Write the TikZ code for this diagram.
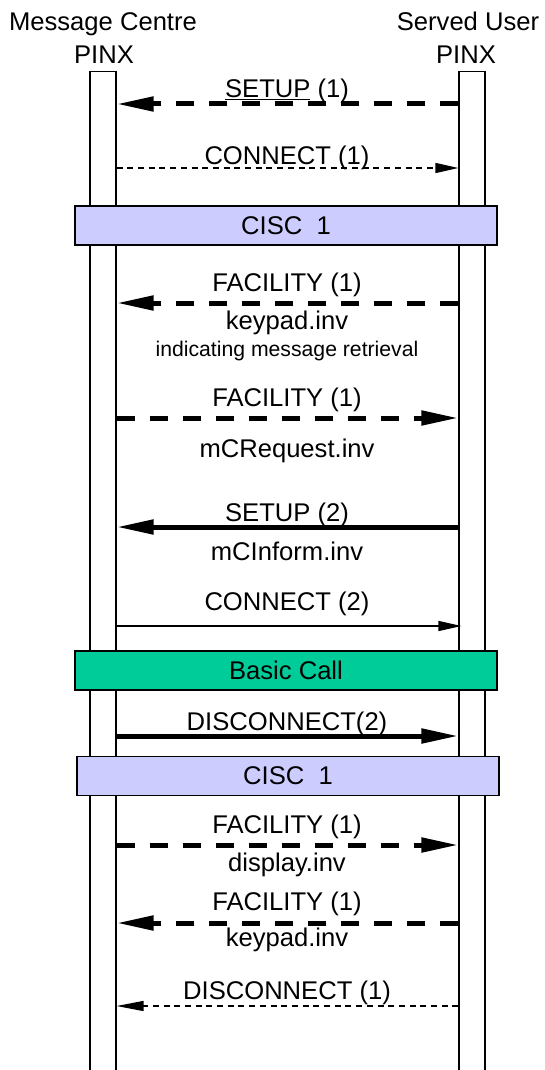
\documentclass[tikz,border=0pt]{standalone}
\usepackage{fontspec}
\setmainfont{Liberation Sans}
\usetikzlibrary{arrows.meta,positioning}

\definecolor{ciscblue}{HTML}{CCCCFF}
\definecolor{callgreen}{HTML}{00CC99}

\tikzset{
  lifeline/.style={draw, line width=1.2pt, minimum width=26pt, minimum height=1100pt,
    anchor=north, inner sep=0pt},
  head/.style={font=\fontsize{25.6}{30}\selectfont, inner sep=0pt, anchor=base},
  msg/.style={font=\fontsize{25.6}{30}\selectfont, inner sep=0pt, anchor=base},
  note/.style={font=\fontsize{21.2}{25}\selectfont, inner sep=0pt, anchor=base},
  phase/.style={draw, line width=1.2pt, minimum width=422pt, minimum height=39pt,
    font=\fontsize{25.6}{30}\selectfont, inner sep=0pt},
  big/.style={line width=5pt, -{Triangle[length=37pt,width=14pt]}},
  bigdash/.style={big, dash pattern=on 18pt off 15pt},
  small/.style={line width=1.3pt, -{Triangle[length=23pt,width=10pt]}},
  smalldash/.style={small, dash pattern=on 6pt off 4.7pt},
}

\begin{document}
\begin{tikzpicture}[x=1pt, y=-1pt]
        \useasboundingbox (0,0) rectangle (544,1070);

        % Lifeline headers
        \node[head] (mcname) at (103,31) {Message Centre};
        \node[head] (mcpinx) at (104,64) {PINX};
        \node[head] (suname) at (468,31) {Served User};
        \node[head] (supinx) at (466,64) {PINX};

        % Lifelines
        \node[lifeline] (mcl) at (103,71) {};
        \node[lifeline] (sul) at (472,71) {};

        % Phase boxes
        \node[phase, fill=ciscblue] (cisca) at (286,225.5) {CISC\ \ 1};
        \node[phase, fill=callgreen] (basic) at (286,670.5) {Basic Call};
        \node[phase, fill=ciscblue] (ciscb) at (288,776) {CISC\ \ 1};

        % Message levels
        \coordinate (m1) at (0,104);
        \coordinate (m2) at (0,168);
        \coordinate (m3) at (0,303);
        \coordinate (m4) at (0,418);
        \coordinate (m5) at (0,527);
        \coordinate (m6) at (0,626);
        \coordinate (m7) at (0,736);
        \coordinate (m8) at (0,845);
        \coordinate (m9) at (0,923);
        \coordinate (m10) at (0,1006);

        % Call set-up and CISC
        \draw[bigdash] (sul.west |- m1) -- (mcl.east |- m1);
        \node[msg] (t1) at (287,98) {\underline{SETUP} (1)};
        \draw[smalldash] (mcl.east |- m2) -- (sul.west |- m2);
        \node[msg] (t2) at (287,164) {CONNECT (1)};

        % Message retrieval request
        \draw[bigdash] (sul.west |- m3) -- (mcl.east |- m3);
        \node[msg] (t3) at (287,291) {FACILITY (1)};
        \node[msg] (k3) at (287,329) {keypad.inv};
        \node[note] (n3) at (287,356) {indicating message retrieval};
        \draw[bigdash] (mcl.east |- m4) -- (sul.west |- m4);
        \node[msg] (t4) at (287,406) {FACILITY (1)};
        \node[msg] (k4) at (287,457) {mCRequest.inv};

        % Basic call
        \draw[big] (sul.west |- m5) -- (mcl.east |- m5);
        \node[msg] (t5) at (287,521.5) {SETUP (2)};
        \node[msg] (k5) at (287,560.5) {mCInform.inv};
        \draw[small] (mcl.east |- m6) -- ([xshift=3pt]sul.west |- m6);
        \node[msg] (t6) at (287,610) {CONNECT (2)};
        \draw[big] (mcl.east |- m7) -- (sul.west |- m7);
        \node[msg] (t7) at (287,730.5) {DISCONNECT(2)};

        % Display and release
        \draw[bigdash] (mcl.east |- m8) -- (sul.west |- m8);
        \node[msg] (t8) at (287,833) {FACILITY (1)};
        \node[msg] (k8) at (287,871) {display.inv};
        \draw[bigdash] (sul.west |- m9) -- (mcl.east |- m9);
        \node[msg] (t9) at (287,910) {FACILITY (1)};
        \node[msg] (k9) at (287,946.5) {keypad.inv};
        \draw[smalldash, -{Triangle[length=27pt,width=10pt]}] (sul.west |- m10) -- (mcl.east |- m10);
        \node[msg] (t10) at (287,999.5) {DISCONNECT (1)};

    \end{tikzpicture}
\end{document}
